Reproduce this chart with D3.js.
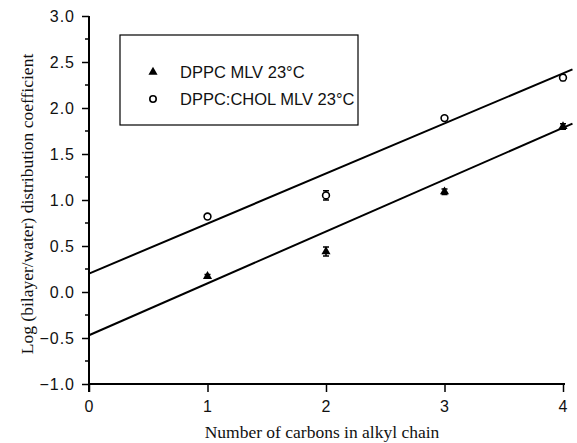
<!DOCTYPE html>
<meta charset="utf-8">
<style>
body { margin: 0; background: #fff; }
.tick text { font-family: "Liberation Sans", Arial, sans-serif; font-size: 16px; letter-spacing: 1px; fill: #111; }
.title { font-family: "Liberation Serif", "Times New Roman", serif; font-size: 17.5px; fill: #111; }
.legend text { font-family: "Liberation Sans", Arial, sans-serif; font-size: 16.5px; fill: #111; }
</style>
<svg width="577" height="443"></svg>
<script src="https://d3js.org/d3.v7.min.js"></script>
<script>

// data
var carbons = [1, 2, 3, 4];
var dppc = [0.17, 0.44, 1.09, 1.80];
var dppcErr = [0.02, 0.05, 0.03, 0.03];
var chol = [0.82, 1.05, 1.89, 2.33];
var cholErr = [0.02, 0.05, 0.02, 0.03];
// fitted lines, [x, y] endpoints
var fitDppc = [[0, -0.47], [4.08, 1.83]];
var fitChol = [[0, 0.20], [4.08, 2.42]];
var yTicks = [-1.0, -0.5, 0.0, 0.5, 1.0, 1.5, 2.0, 2.5, 3.0];
var xTicks = [0, 1, 2, 3, 4];
var legendLabels = ["DPPC MLV 23°C", "DPPC:CHOL MLV 23°C"];

var svg = d3.select("svg");

var x = d3.scaleLinear().domain([0, 4]).range([89, 563]),
	y = d3.scaleLinear().domain([-1, 3]).range([384, 16]);

// y axis
var yAxis = svg.append("g")
	.attr("transform", "translate(89,0)")
	.call(d3.axisLeft(y).tickValues(yTicks).tickFormat(d3.format(".1f")).tickSize(7).tickPadding(7));
yAxis.select(".domain").attr("d", "M0,16V392").attr("stroke-width", 2);
yAxis.selectAll(".tick line").attr("stroke-width", 1.5);

// minor y ticks
svg.append("g")
	.selectAll("line")
	.data(d3.range(-0.75, 3, 0.5))
	.enter().append("line")
		.attr("x1", 85).attr("x2", 89)
		.attr("y1", function(d) { return y(d); })
		.attr("y2", function(d) { return y(d); })
		.attr("stroke", "#000").attr("stroke-width", 1.5);

// x axis
var xAxis = svg.append("g")
	.attr("transform", "translate(0,384)")
	.call(d3.axisBottom(x).tickValues(xTicks).tickFormat(d3.format("d")).tickSize(8).tickPadding(9));
xAxis.select(".domain").attr("d", "M89,0H565").attr("stroke-width", 2);
xAxis.selectAll(".tick line").attr("stroke-width", 1.5);

svg.append("text")
	.attr("class", "title")
	.attr("text-anchor", "middle")
	.attr("x", 322).attr("y", 438)
	.text("Number of carbons in alkyl chain");

svg.append("text")
	.attr("class", "title")
	.attr("text-anchor", "middle")
	.attr("transform", "translate(33,204) rotate(-90)")
	.text("Log (bilayer/water) distribution coefficient");

// fit lines
var line = d3.line()
	.x(function(d) { return x(d[0]); })
	.y(function(d) { return y(d[1]); });

svg.append("g")
	.selectAll("path")
	.data([fitDppc, fitChol])
	.enter().append("path")
		.attr("d", line)
		.attr("fill", "none")
		.attr("stroke", "#000")
		.attr("stroke-width", 2);

// error bars
function errBars(vals, errs) {
	svg.append("g")
		.selectAll("path")
		.data(carbons)
		.enter().append("path")
			.attr("d", function(d, i) {
				var cx = x(d), y0 = y(vals[i] - errs[i]), y1 = y(vals[i] + errs[i]);
				return "M" + (cx - 3) + "," + y0 + "H" + (cx + 3) +
					"M" + (cx - 3) + "," + y1 + "H" + (cx + 3) +
					"M" + cx + "," + y0 + "V" + y1;
			})
			.attr("stroke", "#000").attr("stroke-width", 1.5).attr("fill", "none");
}
errBars(dppc, dppcErr);
errBars(chol, cholErr);

var tri = d3.symbol().type(d3.symbolTriangle).size(36);

svg.append("g")
	.selectAll("path")
	.data(carbons)
	.enter().append("path")
		.attr("d", tri)
		.attr("transform", function(d, i) { return "translate(" + x(d) + "," + y(dppc[i]) + ")"; })
		.attr("fill", "#000");

svg.append("g")
	.selectAll("circle")
	.data(carbons)
	.enter().append("circle")
		.attr("cx", function(d) { return x(d); })
		.attr("cy", function(d, i) { return y(chol[i]); })
		.attr("r", 3.4)
		.attr("fill", "#fff")
		.attr("stroke", "#000")
		.attr("stroke-width", 1.6);

// legend
var legend = svg.append("g").attr("class", "legend");
legend.append("rect")
	.attr("x", 120).attr("y", 35)
	.attr("width", 238).attr("height", 90)
	.attr("fill", "none").attr("stroke", "#000").attr("stroke-width", 1.2);
legend.append("path")
	.attr("d", tri)
	.attr("transform", "translate(153,72)")
	.attr("fill", "#000");
legend.append("circle")
	.attr("cx", 153).attr("cy", 99).attr("r", 3.2)
	.attr("fill", "#fff").attr("stroke", "#000").attr("stroke-width", 1.6);
legend.selectAll("text")
	.data(legendLabels)
	.enter().append("text")
		.attr("x", 180)
		.attr("y", function(d, i) { return 78 + i * 27; })
		.text(function(d) { return d; });

</script>
